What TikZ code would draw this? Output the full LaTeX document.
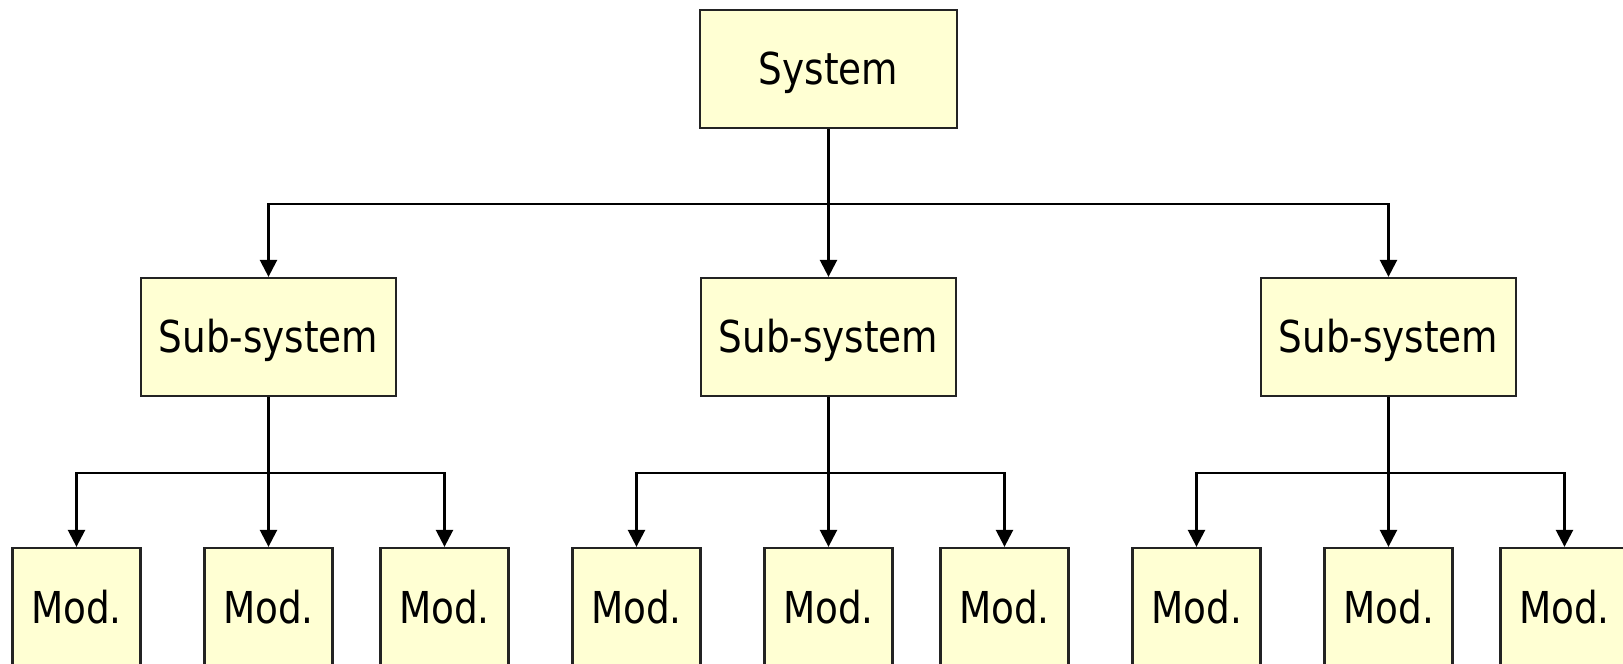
\documentclass[tikz,border=0pt]{standalone}
\usepackage{fontspec}
\setmainfont{DejaVu Sans}[FakeStretch=0.85]
\usepackage{xcolor}
\usetikzlibrary{arrows.meta}

\definecolor{boxfill}{RGB}{255,255,211}
\definecolor{boxline}{RGB}{35,35,35}

\tikzset{
  blk/.style={draw=boxline, line width=0.022cm, fill=boxfill, inner sep=0pt,
    text height=9pt, text depth=0pt, font=\fontsize{12.5}{15}\selectfont},
  sysbox/.style={blk, minimum width=2.57cm, minimum height=1.18cm},
  subbox/.style={blk, minimum width=2.55cm, minimum height=1.18cm},
  modbox/.style={blk, minimum width=1.28cm, minimum height=1.2cm},
  link/.style={line width=0.025cm, -{Triangle[length=0.17cm, width=0.17cm]}}
}

\begin{document}
\begin{tikzpicture}[x=0.01cm, y=-0.01cm]
\clip (0,0) rectangle (1623,664);

% Top level
\node[sysbox] (sys) at (828.5,69) {System};

% Sub-systems
\node[subbox] (subA) at (268.5,337) {Sub-system};
\node[subbox] (subB) at (828.5,337) {Sub-system};
\node[subbox] (subC) at (1388.5,337) {Sub-system};

% Modules under subA
\node[modbox] (modA1) at (76.5,608) {Mod.};
\node[modbox] (modA2) at (268.5,608) {Mod.};
\node[modbox] (modA3) at (444.5,608) {Mod.};

% Modules under subB
\node[modbox] (modB1) at (636.5,608) {Mod.};
\node[modbox] (modB2) at (828.5,608) {Mod.};
\node[modbox] (modB3) at (1004.5,608) {Mod.};

% Modules under subC
\node[modbox] (modC1) at (1196.5,608) {Mod.};
\node[modbox] (modC2) at (1388.5,608) {Mod.};
\node[modbox] (modC3) at (1564.5,608) {Mod.};

% Branch points
\coordinate (busS) at (828.5,204);
\coordinate (busA) at (268.5,473);
\coordinate (busB) at (828.5,473);
\coordinate (busC) at (1388.5,473);

% System -> sub-systems
\draw[link] (sys.south) -- (subB.north);
\draw[link] (busS) -| (subA.north);
\draw[link] (busS) -| (subC.north);

% Sub-systems -> modules
\draw[link] (subA.south) -- (modA2.north);
\draw[link] (busA) -| (modA1.north);
\draw[link] (busA) -| (modA3.north);

\draw[link] (subB.south) -- (modB2.north);
\draw[link] (busB) -| (modB1.north);
\draw[link] (busB) -| (modB3.north);

\draw[link] (subC.south) -- (modC2.north);
\draw[link] (busC) -| (modC1.north);
\draw[link] (busC) -| (modC3.north);

\end{tikzpicture}
\end{document}
